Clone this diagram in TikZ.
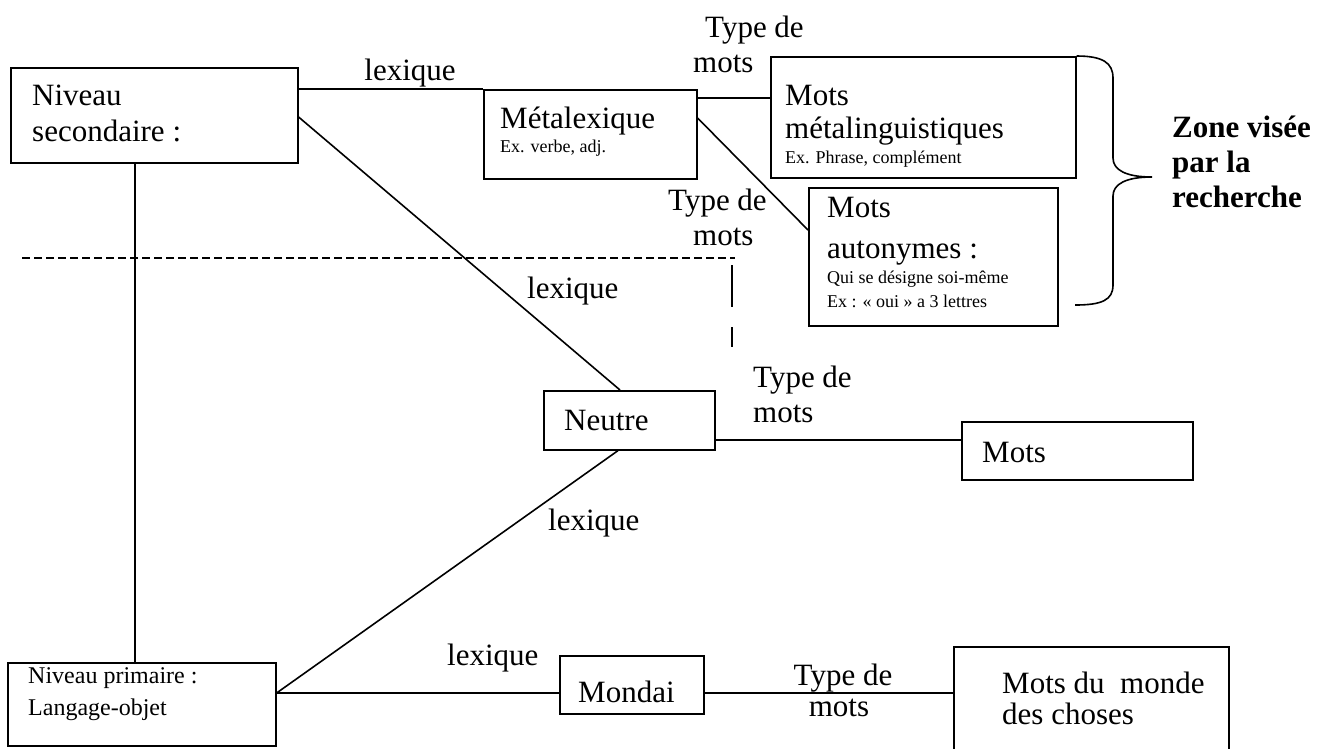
\documentclass[tikz,border=0pt]{standalone}
\usepackage{fontspec}
\setmainfont{Liberation Serif}
\begin{document}
\begin{tikzpicture}[x=1pt,y=-1pt,
  box/.style={draw, line width=1.6pt, inner sep=0pt, anchor=north west},
  big/.style={font=\fontsize{31}{36}\selectfont, anchor=base west, inner sep=0pt},
  mid/.style={font=\fontsize{24}{32}\selectfont, anchor=base west, inner sep=0pt},
  small/.style={font=\fontsize{18}{21}\selectfont, anchor=base west, inner sep=0pt},
  zone/.style={font=\fontsize{31}{36}\selectfont\bfseries, anchor=base west, inner sep=0pt},
  conn/.style={line width=1.6pt},
  dashline/.style={line width=1.6pt, dash pattern=on 8pt off 4pt},
  longdash/.style={line width=1.6pt, dash pattern=on 42pt off 20pt}
]
\useasboundingbox (0,0) rectangle (1333,748);

% boxes
\node[box, minimum width=287pt, minimum height=95pt] (ns) at (10,67) {};
\node[box, minimum width=213pt, minimum height=89pt] (meta) at (483,89) {};
\node[box, minimum width=305pt, minimum height=121pt] (mm) at (770,56) {};
\node[box, minimum width=249pt, minimum height=138pt] (auto) at (808,187) {};
\node[box, minimum width=171pt, minimum height=59pt] (neutre) at (543,390) {};
\node[box, minimum width=231pt, minimum height=58pt] (mots) at (961,421) {};
\node[box, minimum width=268pt, minimum height=83pt] (np) at (7,662) {};
\node[box, minimum width=144pt, minimum height=58pt] (mondai) at (559,655) {};
\node[box, minimum width=275pt, minimum height=140pt] (mdm) at (953,646) {};

% box texts
\node[big] (nst1) at (32,105) {Niveau};
\node[big] (nst2) at (32,141) {secondaire :};
\node[big] (metat) at (500,128) {Métalexique};
\node[small] (metas) at (500,152) {Ex. verbe, adj.};
\node[big] (mmt1) at (785,105) {Mots};
\node[big] (mmt2) at (785,138) {métalinguistiques};
\node[small] (mms) at (785,163) {Ex. Phrase, complément};
\node[big] (autot1) at (827,217) {Mots};
\node[big] (autot2) at (827,258) {autonymes :};
\node[small] (autos1) at (827,283) {Qui se désigne soi-même};
\node[small] (autos2) at (827,307) {Ex : « oui » a 3 lettres};
\node[big] (neutret) at (564,430) {Neutre};
\node[big] (motst) at (982,462) {Mots};
\node[mid] (npt1) at (28,683) {Niveau primaire :};
\node[mid] (npt2) at (28,715) {Langage-objet};
\node[big] (mondait) at (578,702) {Mondai};
\node[big] (mdmt1) at (1002,693) {Mots du \ monde};
\node[big] (mdmt2) at (1002,724) {des choses};

% zone
\node[zone] (z1) at (1172,137) {Zone visée};
\node[zone] (z2) at (1172,172) {par la};
\node[zone] (z3) at (1172,207) {recherche};
\draw[conn] (mm.north east) .. controls (1103,56) and (1113,63) .. (1113,78)
  -- (1113,158) .. controls (1113,170) and (1126,177) .. (1152,177)
  .. controls (1126,177) and (1113,184) .. (1113,196)
  -- (1113,285) .. controls (1113,300) and (1102,305) .. (1075,305);

% connectors
\draw[conn] ([yshift=-22pt]ns.north east) -- (meta.north west);
\draw[conn] ([yshift=-50pt]ns.north east) -- ([xshift=77pt]neutre.north west);
\draw[conn] ([xshift=125pt]ns.south west) -- ([xshift=128pt]np.north west);
\draw[conn] ([yshift=-9pt]meta.north east) -- ([yshift=-42pt]mm.north west);
\draw[conn] ([yshift=-29pt]meta.north east) -- ([yshift=-43pt]auto.north west);
\draw[conn] ([yshift=-50pt]neutre.north east) -- ([yshift=-19pt]mots.north west);
\draw[conn] ([xshift=75pt]neutre.south west) -- ([yshift=-31pt]np.north east);
\draw[conn] ([yshift=-31pt]np.north east) -- ([yshift=-38pt]mondai.north west);
\draw[conn] ([yshift=-38pt]mondai.north east) -- ([yshift=-47pt]mdm.north west);

% connector labels
\node[big, anchor=base] (l1) at (410,80) {lexique};
\node[big] (l2) at (527,298) {lexique};
\node[big] (l3) at (548,530) {lexique};
\node[big] (l4) at (447,665) {lexique};
\node[big] (t1a) at (705,37) {Type de};
\node[big] (t1b) at (693,72) {mots};
\node[big] (t2a) at (668,210) {Type de};
\node[big] (t2b) at (693,245) {mots};
\node[big] (t3a) at (753,387) {Type de};
\node[big] (t3b) at (753,422) {mots};
\node[big, anchor=base] (t4a) at (843,685) {Type de};
\node[big, anchor=base] (t4b) at (839,716) {mots};

% dashed separator
\coordinate (d1) at (22,258);
\coordinate (d2) at (735,258);
\coordinate (d3) at (732,265);
\coordinate (d4) at (732,347);
\draw[dashline] (d1) -- (d2);
\draw[longdash] (d3) -- (d4);
\end{tikzpicture}
\end{document}
